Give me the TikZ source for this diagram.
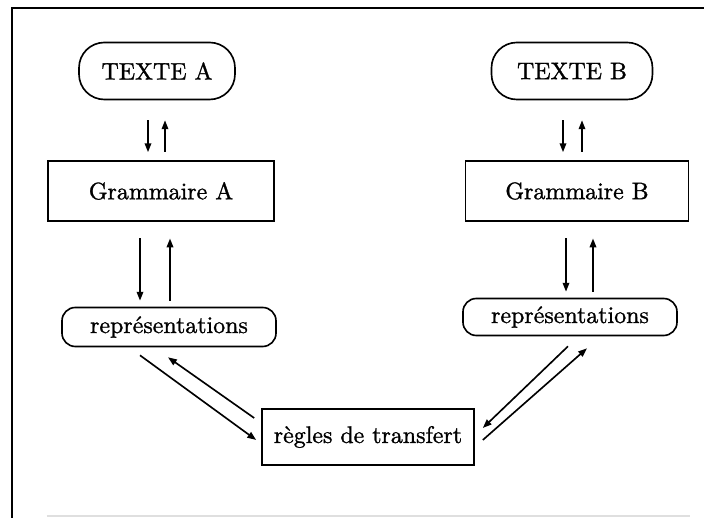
\documentclass[tikz,border=0pt]{standalone}
\usepackage{fontspec}
\setmainfont{lmroman10-regular.otf}[FakeBold=1.2]
\usetikzlibrary{arrows.meta}

\begin{document}
\begin{tikzpicture} [>={Triangle[length=3.8pt,width=2.8pt]}, line width=0.7pt,
    font=\fontsize{10.2}{12}\selectfont,
    pill/.style={draw, rounded corners=0.38cm, minimum height=0.855cm},
    pillb/.style={draw, rounded corners=0.2cm, minimum width=3.21cm},
    boite/.style={draw, minimum height=0.9cm}]
\useasboundingbox (0,0) rectangle (10.56,7.77);
% cadre
\draw[line width=0.9pt] (10.56,7.65) -- (0.18,7.65) -- (0.18,0);
\draw[gray!25, line width=1pt] (0.7,0.03) -- (10.35,0.03);
% noeuds
\node[pill, minimum width=2.34cm] (texteA) at (2.355,6.705) {TEXTE A};
\node[pill, minimum width=2.415cm] (texteB) at (8.58,6.705) {TEXTE B};
\node[boite, minimum width=3.39cm] (gramA) at (2.415,4.905) {Grammaire A};
\node[boite, minimum width=3.345cm] (gramB) at (8.655,4.905) {Grammaire B};
\node[pillb, minimum height=0.585cm] (repA) at (2.535,2.865) {représentations};
\node[pillb, minimum height=0.555cm] (repB) at (8.55,3.015) {représentations};
\node[boite, minimum width=3.18cm, minimum height=0.84cm] (regles) at (5.52,1.215) {règles de transfert};
% texte <-> grammaire
\draw[->, shorten <=0.3cm, shorten >=0.12cm] ([xshift=-0.135cm]texteA.south) -- ([xshift=-0.135cm]texteA.south |- gramA.north);
\draw[<-, shorten <=0.3cm, shorten >=0.12cm] ([xshift=0.12cm]texteA.south) -- ([xshift=0.12cm]texteA.south |- gramA.north);
\draw[->, shorten <=0.3cm, shorten >=0.12cm] ([xshift=-0.135cm]texteB.south) -- ([xshift=-0.135cm]texteB.south |- gramB.north);
\draw[<-, shorten <=0.3cm, shorten >=0.12cm] ([xshift=0.15cm]texteB.south) -- ([xshift=0.15cm]texteB.south |- gramB.north);
% grammaire <-> representations
\draw[->, shorten <=0.25cm, shorten >=0.09cm] ([xshift=-0.315cm]gramA.south) -- ([xshift=-0.315cm]gramA.south |- repA.north);
\draw[<-, shorten <=0.25cm, shorten >=0.09cm] ([xshift=0.135cm]gramA.south) -- ([xshift=0.135cm]gramA.south |- repA.north);
\draw[->, shorten <=0.25cm, shorten >=0.09cm] ([xshift=-0.165cm]gramB.south) -- ([xshift=-0.165cm]gramB.south |- repB.north);
\draw[<-, shorten <=0.25cm, shorten >=0.09cm] ([xshift=0.24cm]gramB.south) -- ([xshift=0.24cm]gramB.south |- repB.north);
% representations <-> regles
\draw[->] ([xshift=-0.435cm,yshift=-0.12cm]repA.south) -- ([xshift=-0.075cm,yshift=-0.045cm]regles.west);
\draw[->] ([xshift=-0.105cm,yshift=0.285cm]regles.west) -- ([xshift=-0.015cm,yshift=-0.15cm]repA.south);
\draw[->] ([xshift=-0.03cm,yshift=-0.15cm]repB.south) -- ([xshift=0.12cm,yshift=0.135cm]regles.east);
\draw[->] ([xshift=0.12cm,yshift=-0.045cm]regles.east) -- ([xshift=0.255cm,yshift=-0.18cm]repB.south);
\end{tikzpicture}
\end{document}
